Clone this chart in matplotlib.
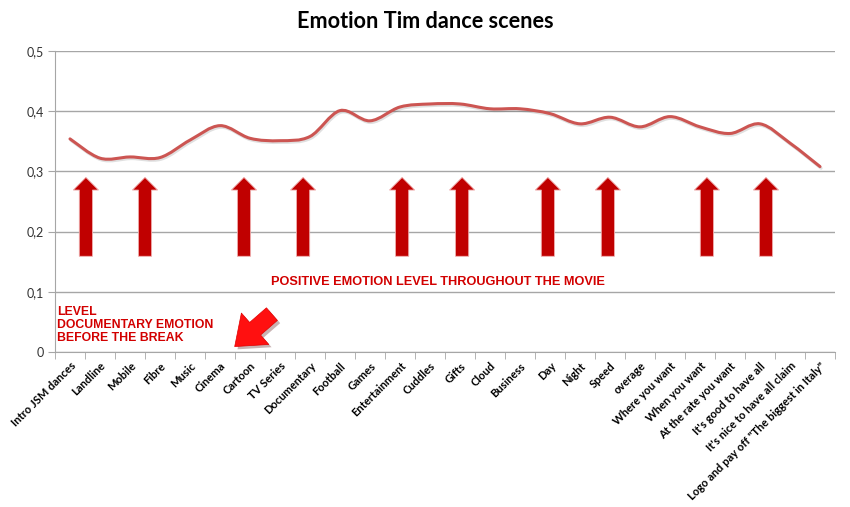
import matplotlib
matplotlib.use("Agg")
import matplotlib.pyplot as plt
import matplotlib.patheffects as pe
from matplotlib.path import Path
from matplotlib.patches import PathPatch, FancyArrow, FancyArrowPatch
import numpy as np

# scenes on the x axis
scenes = ["Intro JSM dances", "Landline", "Mobile", "Fibre", "Music", "Cinema",
          "Cartoon", "TV Series", "Documentary", "Football", "Games",
          "Entertainment", "Cuddles", "Gifts", "Cloud", "Business", "Day",
          "Night", "Speed", "overage", "Where you want", "When you want",
          "At the rate you want", "It's good to have all",
          "It's nice to have all claim", "Logo and pay off \"The biggest in Italy\""]
# positive emotion level per scene
emotion = [0.354, 0.322, 0.324, 0.323, 0.352, 0.376, 0.355, 0.351, 0.358,
           0.401, 0.384, 0.407, 0.412, 0.412, 0.404, 0.404, 0.396, 0.379,
           0.390, 0.374, 0.391, 0.374, 0.363, 0.379, 0.347, 0.308]
yticks = [0, 0.1, 0.2, 0.3, 0.4, 0.5]
ytick_labels = ["0", "0,1", "0,2", "0,3", "0,4", "0,5"]
# where the up arrows stand (in scene units)
arrow_x = [0.53, 2.5, 5.8, 7.77, 11.07, 13.07, 15.93, 17.93, 21.23, 23.2]

fig = plt.figure(figsize=(8.5, 5.07), dpi=100)
ax = fig.add_axes([55/850, 1-352/507, 780/850, 301/507])

x = np.arange(len(emotion))
y = np.array(emotion)

# smoothed line like the spreadsheet one (bezier through every point)
verts = [(x[0], y[0])]
codes = [Path.MOVETO]
n = len(x)
for i in range(n-1):
    p0 = np.array([x[max(i-1, 0)], y[max(i-1, 0)]])
    p1 = np.array([x[i], y[i]])
    p2 = np.array([x[i+1], y[i+1]])
    p3 = np.array([x[min(i+2, n-1)], y[min(i+2, n-1)]])
    c1 = p1 + (p2 - p0) / 6
    c2 = p2 - (p3 - p1) / 6
    verts += [tuple(c1), tuple(c2), tuple(p2)]
    codes += [Path.CURVE4] * 3
line = PathPatch(Path(verts, codes), facecolor="none", edgecolor="#CC5552",
                 lw=2.2, zorder=5, capstyle="round")
line.set_path_effects([pe.SimpleLineShadow(offset=(0.8, -1.2), alpha=0.12),
                       pe.Normal()])
ax.add_patch(line)

for ax_x in arrow_x:
    ax.add_patch(FancyArrow(ax_x, 0.159, 0, 0.131, width=0.44, head_width=0.84,
                            head_length=0.021, length_includes_head=True,
                            facecolor="#C00000", edgecolor="#F0B0B0", lw=0.6,
                            zorder=4))

ax.text(12.27, 0.1155, "POSITIVE EMOTION LEVEL THROUGHOUT THE MOVIE",
        color="#D20000", fontsize=9.2, fontweight="bold", ha="center",
        va="center", family="Liberation Sans")
ax.text(-0.42, 0.0445, "LEVEL\nDOCUMENTARY EMOTION\nBEFORE THE BREAK",
        color="#D20000", fontsize=8.8, fontweight="bold", ha="left",
        va="center", family="Liberation Sans", linespacing=1.12)

big = FancyArrowPatch((6.8, 0.066), (5.42, 0.006),
                      arrowstyle="simple,head_width=2.0,head_length=1.3,tail_width=0.8",
                      mutation_scale=15, facecolor="#FF1010", edgecolor="#E00000",
                      lw=0.5, zorder=6)
big.set_path_effects([pe.SimplePatchShadow(offset=(2, -2), alpha=0.3), pe.Normal()])
ax.add_patch(big)

ax.set_xlim(-0.5, n-0.5)
ax.set_ylim(0, 0.5)
ax.set_yticks(yticks)
ax.set_yticklabels(ytick_labels, family="Lato", fontsize=9, color="#333333")
ax.set_xticks(x)
ax.set_xticklabels(scenes, rotation=45, ha="right", rotation_mode="anchor",
                   family="Lato", fontweight="bold", fontsize=8)
ax.set_xticks(np.arange(n+1) - 0.5, minor=True)
ax.tick_params(axis="x", which="major", length=0, pad=6)
ax.tick_params(axis="x", which="minor", length=5, color="#A6A6A6", direction="out")
ax.tick_params(axis="y", length=5, color="#A6A6A6", pad=3)
ax.grid(axis="y", color="#A6A6A6", lw=1)
ax.set_axisbelow(True)
for s in ["top", "right"]:
    ax.spines[s].set_visible(False)
for s in ["left", "bottom"]:
    ax.spines[s].set_color("#A6A6A6")

fig.text(425/850, 1-22/507, "Emotion Tim dance scenes", ha="center", va="center",
         family="Lato", fontweight="bold", fontsize=15.6)

fig.savefig("out.png", dpi=100)
